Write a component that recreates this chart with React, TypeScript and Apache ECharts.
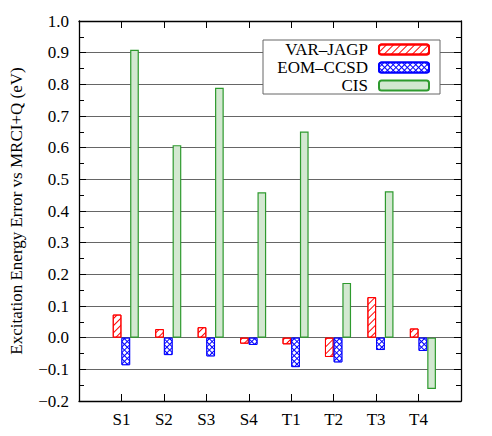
import React, { useEffect, useRef } from "react";
import * as echarts from "echarts";

const categories = ["S1", "S2", "S3", "S4", "T1", "T2", "T3", "T4"];
const varJagp = [0.073, 0.027, 0.033, -0.019, -0.021, -0.061, 0.128, 0.029];
const eomCcsd = [-0.087, -0.055, -0.059, -0.023, -0.093, -0.078, -0.039, -0.042];
const cis = [0.909, 0.608, 0.789, 0.459, 0.651, 0.173, 0.462, -0.162];
const yTicks = { min: -0.2, max: 1.0, step: 0.1 };
const seriesNames = ["VAR\u2013JAGP", "EOM\u2013CCSD", "CIS"];
const yTitle = "Excitation Energy Error vs MRCI+Q (eV)";

const FONT = "Liberation Serif";

export default function App() {
  const ref = useRef<HTMLDivElement>(null);
  useEffect(() => {
    if (!ref.current) return;
    const chart = echarts.init(ref.current, undefined, { renderer: "svg" });
    const xData = ["", ...categories, ""];
    const pad = (arr: number[]) => [null, ...arr, null];
    const lastIdx = xData.length - 1;
    const tickInterval = (i: number) => i > 0 && i < lastIdx;
    const barW = 8.7;
    const axisLine = { show: true, onZero: false, lineStyle: { color: "#000", width: 1.3 } };
    const yCommon = {
      type: "value",
      min: yTicks.min,
      max: yTicks.max,
      interval: yTicks.step,
      axisLine,
      axisTick: { show: true, inside: true, length: 7, lineStyle: { color: "#000" } },
      minorTick: { show: true, splitNumber: 2, length: 5, lineStyle: { color: "#000" } },
    };
    chart.setOption({
      animation: false,
      backgroundColor: "#fff",
      textStyle: { fontFamily: FONT },
      grid: { left: 78, right: 31, top: 21, bottom: 35, containLabel: false },
      legend: {
        data: seriesNames,
        orient: "vertical",
        left: 263,
        top: 40,
        align: "right",
        itemWidth: 50,
        itemHeight: 10,
        itemGap: 1,
        padding: [1, 10, 0, 5],
        backgroundColor: "#fff",
        borderColor: "#666",
        borderWidth: 1,
        formatter: (name: string) => `{a|${name}}`,
        textStyle: {
          rich: {
            a: {
              width: 100,
              align: "right",
              fontSize: 17,
              lineHeight: 16.5,
              fontFamily: FONT,
              color: "#000",
              padding: [0, 6, 0, 0],
            },
          },
        },
      },
      xAxis: [
        {
          type: "category",
          data: xData,
          boundaryGap: false,
          position: "bottom",
          axisLine,
          axisTick: { show: true, inside: true, length: 7, interval: tickInterval, lineStyle: { color: "#000" } },
          axisLabel: { interval: 0, color: "#000", fontSize: 17, fontFamily: FONT, margin: 10 },
          splitLine: { show: false },
        },
        {
          type: "category",
          data: xData,
          boundaryGap: false,
          position: "top",
          axisLine,
          axisTick: { show: true, inside: true, length: 7, interval: tickInterval, lineStyle: { color: "#000" } },
          axisLabel: { show: false },
          splitLine: { show: false },
        },
      ],
      yAxis: [
        {
          ...yCommon,
          position: "left",
          name: yTitle,
          nameLocation: "middle",
          nameGap: 54,
          nameTextStyle: { fontSize: 17, fontFamily: FONT, color: "#000" },
          axisLabel: {
            color: "#000",
            fontSize: 17,
            fontFamily: FONT,
            margin: 10,
            formatter: (v: number) => v.toFixed(1).replace("-", "\u2212"),
          },
          splitLine: { show: true, lineStyle: { color: "#666", width: 1 } },
        },
        {
          ...yCommon,
          position: "right",
          axisLabel: { show: false },
          splitLine: { show: false },
        },
      ],
      series: [
        {
          name: "_pad",
          type: "bar",
          data: xData.map(() => null),
          barWidth: barW,
          barGap: "0%",
        },
        {
          name: seriesNames[0],
          type: "bar",
          data: pad(varJagp),
          barWidth: barW,
          barGap: "0%",
          itemStyle: {
            color: "#fff",
            borderColor: "#ff0000",
            borderWidth: 1,
            decal: {
              symbol: "rect",
              color: "#ff0000",
              dashArrayX: [1, 0],
              dashArrayY: [1, 3.6],
              rotation: -Math.PI / 4,
            },
          },
        },
        {
          name: seriesNames[1],
          type: "bar",
          data: pad(eomCcsd),
          barWidth: barW,
          barGap: "0%",
          itemStyle: {
            color: "#0000ff",
            borderColor: "#0000ff",
            borderWidth: 1,
            decal: {
              symbol: "rect",
              color: "#ffffff",
              dashArrayX: [2.4, 1],
              dashArrayY: [2.4, 1],
              rotation: Math.PI / 4,
            },
          },
        },
        {
          name: seriesNames[2],
          type: "bar",
          data: pad(cis),
          barWidth: barW,
          barGap: "0%",
          itemStyle: {
            color: "#d3e8d1",
            borderColor: "#2e9a2e",
            borderWidth: 1.2,
          },
        },
      ],
    });
    return () => chart.dispose();
  }, []);
  return (
    <div
      ref={ref}
      style={{ position: "absolute", left: 0, top: 0, width: 492, height: 436, background: "#fff" }}
    />
  );
}
